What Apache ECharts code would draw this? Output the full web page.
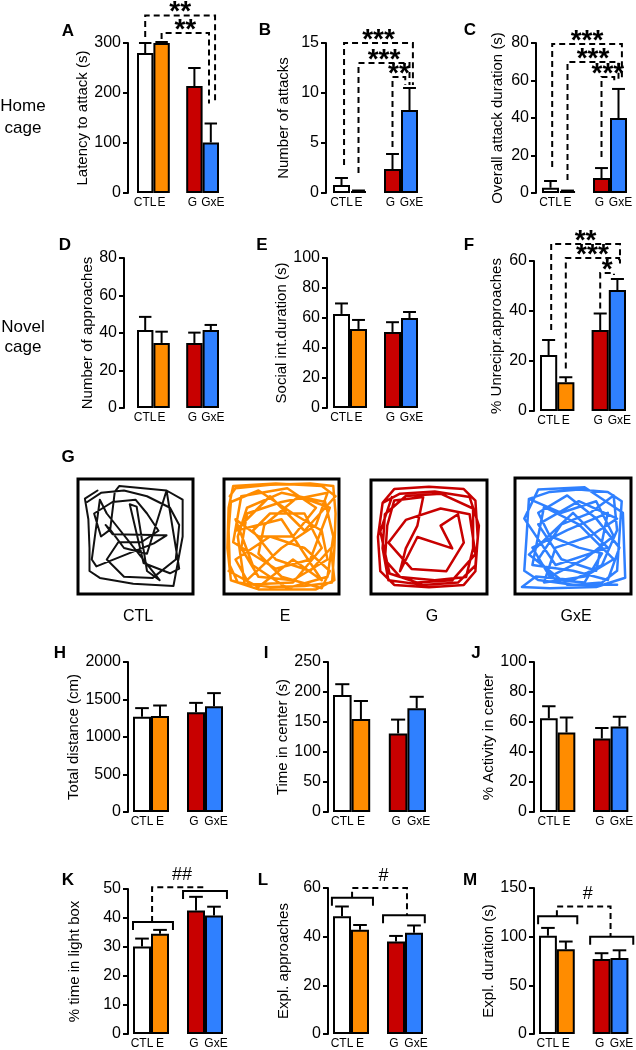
<!DOCTYPE html>
<html><head><meta charset="utf-8">
<script src="https://cdn.jsdelivr.net/npm/echarts@6/dist/echarts.min.js"></script>
<style>html,body{margin:0;padding:0;background:#fff}#c{width:636px;height:1050px}</style>
</head><body><div id="c"></div>
<script>
// ---------------- DATA ----------------
const groups = ['CTL', 'E', 'G', 'GxE'];

const latencyMean = [280, 300, 214, 101],   latencyErr = [20, 2, 36, 38];
const attacksMean = [0.8, 0.2, 2.4, 8.3],   attacksErr = [0.7, 0.05, 1.5, 2.2];
const attackDurMean = [2.8, 1, 8, 40],      attackDurErr = [3.6, 0.3, 5.3, 15.5];
const approachMean = [41.6, 34.7, 34.7, 41.6], approachErr = [7, 6, 5.5, 2.7];
const socialMean = [62.7, 52.7, 50.7, 60],  socialErr = [7, 6, 6.5, 4];
const unrecipMean = [22.4, 11.5, 32.4, 48.4], unrecipErr = [6, 2, 6.6, 4.4];
const distanceMean = [1270, 1280, 1330, 1410], distanceErr = [115, 140, 125, 175];
const centerTimeMean = [195, 155, 131, 173], centerTimeErr = [18, 30, 23, 19];
const centerActMean = [62.5, 53, 49, 57],   centerActErr = [8, 10, 7, 6.5];
const lightMean = [30.2, 34.6, 42.6, 40.9], lightErr = [2.7, 1.3, 4.7, 3];
const explAppMean = [48.4, 42.8, 38, 41.6], explAppErr = [4, 2, 2.3, 3];
const explDurMean = [101, 87, 77, 78],      explDurErr = [8, 8, 6, 8];

// significance brackets: [fromCat, toCat, level, fromEnd, toEnd] (values in axis units)
const sigA = [[0, 4.26, 355, 312, 179], [1, 3.89, 320, 308, 179]];
const sigALabels = ['**', '**'];
const sigB = [[0.15, 4.2, 15, 2.8, 10.8], [1, 4, 13, 2, 10.8], [3, 3.75, 11.6, 4.6, 10.8]];
const sigBLabels = ['***', '***', '**'];
const sigC = [[0.1, 4.2, 79.5, 13.9, 60], [1, 4, 69.9, 6.9, 60], [3, 3.75, 61.9, 19.2, 59]];
const sigCLabels = ['***', '***', '***'];
const sigF = [[0.15, 4.15, 66.8, 32.4, 59], [1, 4.1, 61.2, 17, 59], [3, 3.8, 55.2, 41, 54.4]];
const sigFLabels = ['**', '***', '*'];

// group brackets [from, to, level] and link [fromX, toX, fromLevel, top, toLevel]
const groupK = [[-0.5, 1.72, 38.6], [2.28, 4.72, 49.3]], linkK = [0.56, 3.44, 38.6, 50.6, 49.3], labelK = '##';
const groupL = [[-0.56, 1.72, 56], [2.28, 4.6, 48.8]],   linkL = [0.56, 3.61, 56, 60, 48.8],     labelL = '#';
const groupM = [[-0.55, 1.64, 121], [2.36, 4.77, 100]],  linkM = [0.5, 3.5, 121, 131, 100],      labelM = '#';

// open-field trajectories (box-normalised 0-100)
const trajCTL = [[17,10],[6,17],[9,35],[10,60],[10,80],[19,86],[48,91],[83,93],[91,50],[91,18],[77,10],[36,6],[32,11],[28,44],[24,40],[30,48],[77,49],[66,56],[16,76],[12,70],[19,18],[25,30],[71,88],[60,80],[51,24],[45,22],[57,73],[80,82],[88,78],[77,10],[60,65],[40,60],[28,44],[20,50],[14,30],[30,20],[50,18],[60,30],[70,45],[55,55],[35,55],[25,70],[40,85],[65,86],[85,70],[88,40],[80,25],[60,15],[40,10],[20,12],[8,20]];
const trajE = [[5,15],[10,8],[40,5],[75,4],[95,6],[97,30],[96,60],[94,90],[70,93],[40,94],[12,90],[5,75],[4,45],[6,20],[30,10],[60,30],[85,45],[90,70],[60,88],[30,85],[15,60],[20,30],[50,20],[90,12],[80,40],[50,60],[20,88],[10,70],[40,50],[70,60],[92,80],[85,95],[50,85],[30,65],[35,40],[65,15],[92,25],[75,70],[45,78],[8,55],[15,15],[55,8],[80,25],[60,50],[30,50],[10,35],[25,75],[55,95],[90,85],[95,50],[88,20],[50,12],[20,25],[12,50],[18,92],[60,90],[85,60],[70,30],[40,30],[25,45],[45,70],[75,80],[93,60],[96,88],[80,96],[30,96],[6,88],[3,60],[4,25],[8,6],[45,4],[85,6],[97,15],[70,45],[40,15],[10,45],[50,35],[85,88],[60,70],[30,94],[4,80]];
const trajG = [[10,20],[20,8],[50,6],[80,8],[90,18],[92,50],[90,80],[80,92],[50,94],[20,92],[8,80],[6,50],[10,20],[25,12],[55,10],[85,15],[93,40],[90,75],[75,90],[45,92],[15,88],[10,60],[12,30],[30,14],[60,12],[88,25],[88,60],[82,85],[55,88],[25,85],[12,70],[14,40],[20,18],[45,15],[40,40],[30,60],[25,80],[40,50],[70,60],[60,40],[75,30],[80,55],[65,80],[35,78],[15,55],[30,35],[60,25],[85,30],[90,65],[70,88],[40,90],[16,82],[8,45],[18,15]];
const trajGxE = [[12,18],[30,12],[55,10],[80,12],[92,20],[90,50],[88,80],[75,90],[50,92],[20,88],[8,80],[10,50],[12,18],[40,30],[70,20],[85,50],[60,70],[30,85],[15,60],[45,45],[80,30],[70,80],[40,70],[20,40],[55,20],[88,35],[65,50],[35,60],[25,90],[60,85],[85,70],[55,40],[25,25],[15,75],[50,80],[80,88],[90,60],[70,35],[45,15],[20,30],[30,50],[55,60],[75,65],[60,90],[35,88],[20,70],[40,40],[65,30],[85,15],[88,45],[75,75],[50,88],[18,85],[6,94],[30,95],[70,94],[95,86],[93,30],[60,8],[20,10],[8,35],[35,75],[80,60],[50,30],[12,66],[45,92],[88,92]];

// ---------------- STYLE / LAYOUT ----------------
const FF = '"Liberation Sans", Arial, Helvetica, sans-serif';
const colors = ['#ffffff', '#ff8c00', '#c80000', '#2f80ff'];
const labelShift = [0, 0, 0, -2, 2];   // px shift of each category label
const cats = [groups[0], groups[1], '', groups[2], groups[3]].map((c, i) => ({
  value: c,
  textStyle: {padding: labelShift[i] < 0 ? [0, -2 * labelShift[i], 0, 0] : [0, 0, 0, 2 * labelShift[i]]}
}));
const catIdx = [0, 1, 3, 4];

const panels = [
  {mean: latencyMean, err: latencyErr, max: 300, interval: 100, name: 'Latency to attack (s)', left: 137, width: 82, top: 43, height: 150, gap: 9, nameGap: 35, sig: sigA, sigLabels: sigALabels},
  {mean: attacksMean, err: attacksErr, max: 15, interval: 5, name: 'Number of attacks', left: 333, width: 85, top: 43, height: 150, gap: 7, nameGap: 35, sig: sigB, sigLabels: sigBLabels},
  {mean: attackDurMean, err: attackDurErr, max: 80, interval: 20, name: 'Overall attack duration (s)', left: 542, width: 85, top: 43, height: 150, gap: 6, nameGap: 31, sig: sigC, sigLabels: sigCLabels},
  {mean: approachMean, err: approachErr, max: 80, interval: 20, name: 'Number of approaches', left: 137, width: 82, top: 258, height: 150, gap: 13, nameGap: 29},
  {mean: socialMean, err: socialErr, max: 100, interval: 20, name: 'Social int.duration (s)', left: 333, width: 85, top: 258, height: 150, gap: 6, nameGap: 36},
  {mean: unrecipMean, err: unrecipErr, max: 60, interval: 20, name: '% Unrecipr.approaches', left: 540, width: 86, top: 261, height: 150, gap: 6, nameGap: 30, sig: sigF, sigLabels: sigFLabels},
  {mean: distanceMean, err: distanceErr, max: 2000, interval: 500, name: 'Total distance (cm)', left: 133, width: 90, top: 662, height: 150, gap: 5, nameGap: 31},
  {mean: centerTimeMean, err: centerTimeErr, max: 250, interval: 50, name: 'Time in center (s)', left: 333, width: 93, top: 662, height: 150, gap: 5, nameGap: 34},
  {mean: centerActMean, err: centerActErr, max: 100, interval: 20, name: '% Activity in center', left: 540, width: 90, top: 662, height: 150, gap: 6, nameGap: 30},
  {mean: lightMean, err: lightErr, max: 50, interval: 10, name: '% time in light box', left: 133, width: 90, top: 889, height: 149, gap: 5, nameGap: 46, grp: groupK, link: linkK, linkLabel: labelK},
  {mean: explAppMean, err: explAppErr, max: 60, interval: 20, name: 'Expl. approaches', left: 333, width: 90, top: 888, height: 150, gap: 5, nameGap: 37, grp: groupL, link: linkL, linkLabel: labelL},
  {mean: explDurMean, err: explDurErr, max: 150, interval: 50, name: 'Expl. duration (s)', left: 539, width: 91, top: 888, height: 150, gap: 5, nameGap: 34, grp: groupM, link: linkM, linkLabel: labelM}
];

const grids = [], xAxes = [], yAxes = [], series = [];

function cx(api, v) {
  const i = Math.min(4, Math.max(0, Math.round(v)));
  return api.coord([i, 0])[0] + (v - i) * api.size([1, 0])[0];
}
function cy(api, v) { return api.coord([0, v])[1]; }

panels.forEach((p) => {
  const gi = grids.length;
  grids.push({left: p.left, top: p.top, width: p.width, height: p.height});
  xAxes.push({gridIndex: gi, type: 'category', data: cats, boundaryGap: true,
    axisLine: {show: false}, axisTick: {show: false}, splitLine: {show: false},
    axisLabel: {interval: 0, fontSize: 12, color: '#000', margin: 4, fontFamily: FF}});
  yAxes.push({gridIndex: gi, type: 'value', min: 0, max: p.max, interval: p.interval, offset: p.gap,
    axisLine: {show: true, lineStyle: {color: '#000', width: 2}},
    axisTick: {show: true, length: 5, lineStyle: {color: '#000', width: 2}},
    axisLabel: {fontSize: 16, color: '#000', margin: 7, fontFamily: FF, formatter: (v) => String(v)},
    splitLine: {show: false},
    name: p.name, nameLocation: 'middle', nameGap: p.nameGap,
    nameTextStyle: {fontSize: 15, color: '#000', fontFamily: FF}});
  const barData = ['-', '-', '-', '-', '-'];
  p.mean.forEach((m, i) => {
    barData[catIdx[i]] = {value: m, itemStyle: {color: colors[i], borderColor: '#000', borderWidth: 2}};
  });
  series.push({type: 'bar', xAxisIndex: gi, yAxisIndex: gi, data: barData, barCategoryGap: '0%', barWidth: '100%', z: 2, silent: true});
  series.push({type: 'custom', xAxisIndex: gi, yAxisIndex: gi, z: 3, silent: true,
    data: p.mean.map((m, i) => [catIdx[i], m, p.err[i]]),
    renderItem: (params, api) => {
      const x = api.value(0), m = api.value(1), e = api.value(2);
      const a = api.coord([x, m]), b = api.coord([x, m + e]);
      const w = api.size([1, 0])[0] * 0.38;
      return {type: 'group', children: [
        {type: 'line', shape: {x1: a[0], y1: a[1], x2: b[0], y2: b[1]}, style: {stroke: '#000', lineWidth: 2}},
        {type: 'line', shape: {x1: b[0] - w, y1: b[1], x2: b[0] + w, y2: b[1]}, style: {stroke: '#000', lineWidth: 2}}
      ]};
    }});
  if (p.sig || p.grp) {
    series.push({type: 'custom', xAxisIndex: gi, yAxisIndex: gi, z: 4, silent: true, clip: false,
      data: [[0, 0]],
      renderItem: (params, api) => {
        const ch = [];
        if (p.sig) {
          p.sig.forEach((s, k) => {
            const x1 = cx(api, s[0]), x2 = cx(api, s[1]), yl = cy(api, s[2]);
            ch.push({type: 'polyline', shape: {points: [[x1, cy(api, s[3])], [x1, yl], [x2, yl], [x2, cy(api, s[4])]]},
              style: {stroke: '#000', lineWidth: 2, lineDash: [6, 4], fill: null}});
            ch.push({type: 'text', x: (x1 + x2) / 2, y: yl - 3,
              style: {text: p.sigLabels[k], fill: '#000', font: 'bold 28px ' + FF, align: 'center', verticalAlign: 'middle'}});
          });
        }
        if (p.grp) {
          p.grp.forEach((g) => {
            const x1 = cx(api, g[0]), x2 = cx(api, g[1]), yl = cy(api, g[2]);
            ch.push({type: 'polyline', shape: {points: [[x1, yl + 8], [x1, yl], [x2, yl], [x2, yl + 8]]},
              style: {stroke: '#000', lineWidth: 2, fill: null}});
          });
          const L = p.link;
          const x1 = cx(api, L[0]), x2 = cx(api, L[1]), yt = cy(api, L[3]);
          ch.push({type: 'polyline', shape: {points: [[x1, cy(api, L[2])], [x1, yt], [x2, yt], [x2, cy(api, L[4])]]},
            style: {stroke: '#000', lineWidth: 2, lineDash: [6, 4], fill: null}});
          ch.push({type: 'text', x: (x1 + x2) / 2 + 4, y: yt - 12,
            style: {text: p.linkLabel, fill: '#000', font: '18px ' + FF, align: 'center', verticalAlign: 'middle'}});
        }
        return {type: 'group', children: ch};
      }});
  }
});

// trajectory boxes
const boxes = [
  {left: 78, top: 479, width: 115, height: 115, data: trajCTL, color: '#111111', w: 2},
  {left: 224, top: 479, width: 115, height: 115, data: trajE, color: '#ff8c00', w: 2.5},
  {left: 371, top: 480, width: 116, height: 114, data: trajG, color: '#c80000', w: 2.5},
  {left: 515, top: 478, width: 116, height: 116, data: trajGxE, color: '#2f80ff', w: 2.5}
];
boxes.forEach((b) => {
  const gi = grids.length;
  grids.push({left: b.left, top: b.top, width: b.width, height: b.height, show: true, borderColor: '#000', borderWidth: 3, backgroundColor: 'transparent'});
  xAxes.push({gridIndex: gi, type: 'value', min: 0, max: 100, show: false});
  yAxes.push({gridIndex: gi, type: 'value', min: 0, max: 100, inverse: true, show: false});
  series.push({type: 'line', xAxisIndex: gi, yAxisIndex: gi, data: b.data, showSymbol: false, symbol: 'none', silent: true,
    lineStyle: {color: b.color, width: b.w, join: 'round', cap: 'round'}, z: 2});
});

function txt(x, y, t, size, bold) {
  return {type: 'text', x: x, y: y, silent: true,
    style: {text: t, fill: '#000', font: (bold ? 'bold ' : '') + size + 'px ' + FF, align: 'center', verticalAlign: 'middle'}};
}
const graphics = [
  txt(68, 31, 'A', 17, true), txt(265, 30, 'B', 17, true), txt(470, 30, 'C', 17, true),
  txt(65, 245, 'D', 17, true), txt(262, 245, 'E', 17, true), txt(469, 245, 'F', 17, true),
  txt(68, 457, 'G', 17, true),
  txt(60, 653, 'H', 17, true), txt(266, 653, 'I', 17, true), txt(476, 653, 'J', 17, true),
  txt(68, 880, 'K', 17, true), txt(263, 880, 'L', 17, true), txt(470, 880, 'M', 17, true),
  txt(23, 106, 'Home', 17), txt(23, 128, 'cage', 17),
  txt(23, 327, 'Novel', 17), txt(23, 347, 'cage', 17),
  txt(138, 617, groups[0], 16), txt(285, 617, groups[1], 16), txt(432, 617, groups[2], 16), txt(576, 617, groups[3], 16)
];

const chart = echarts.init(document.getElementById('c'), null, {renderer: 'canvas'});
chart.setOption({
  animation: false,
  backgroundColor: '#ffffff',
  textStyle: {fontFamily: FF},
  grid: grids, xAxis: xAxes, yAxis: yAxes, series: series,
  graphic: graphics
});
</script>
</body></html>
